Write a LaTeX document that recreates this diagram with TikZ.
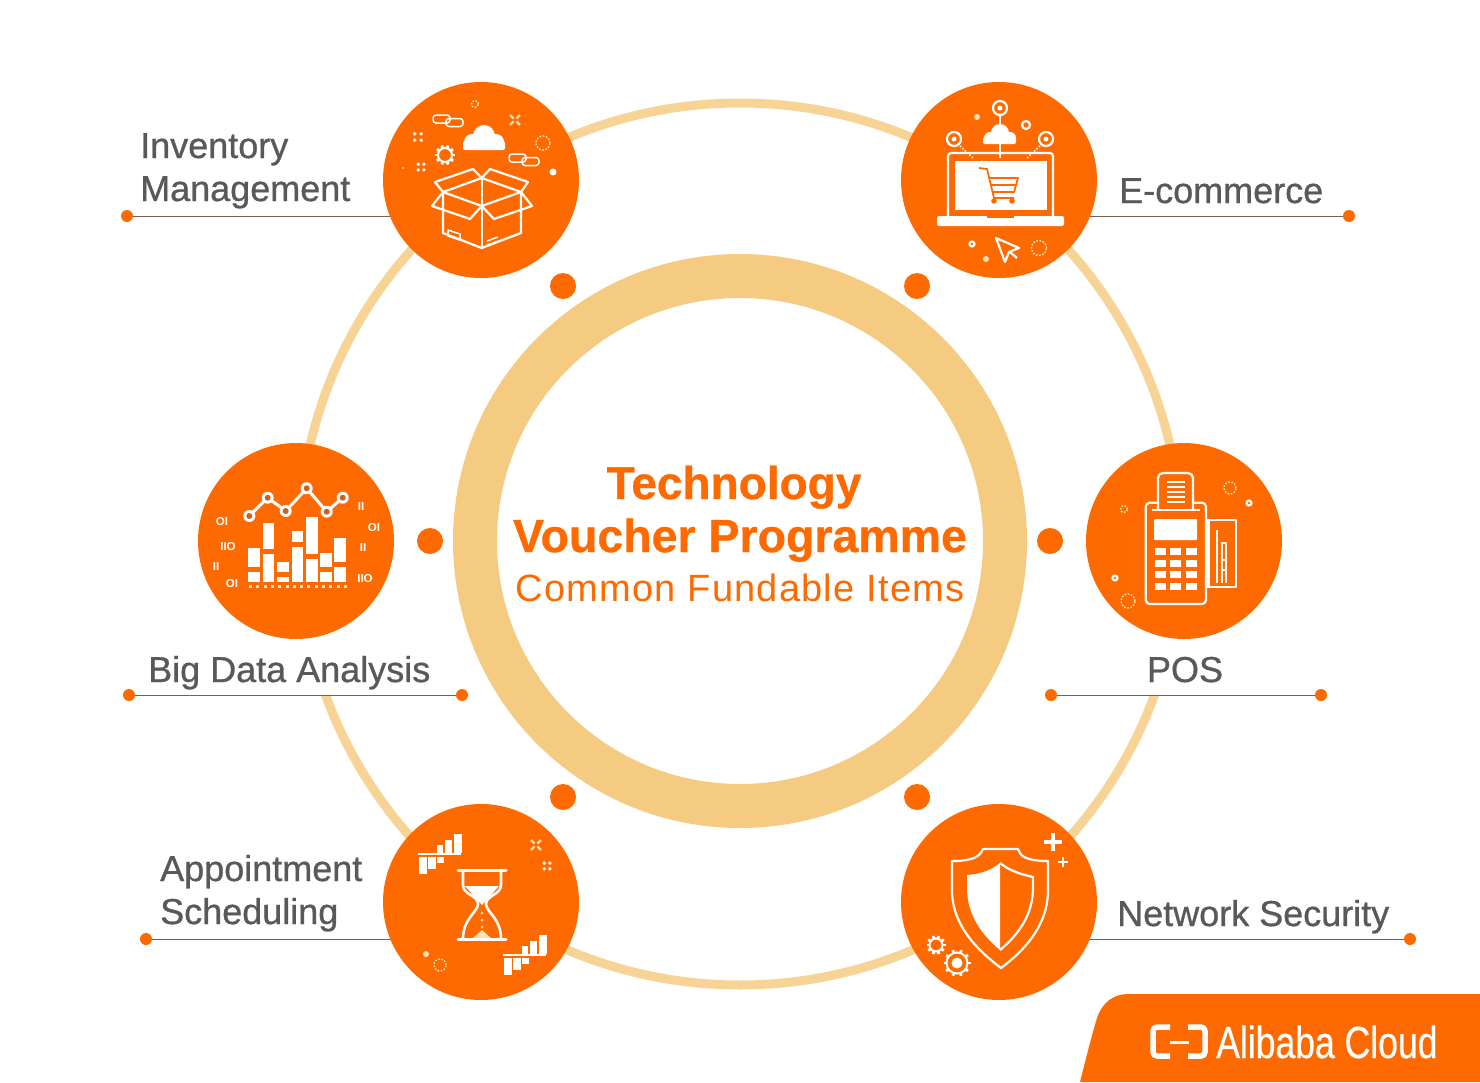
\documentclass[tikz,border=0pt]{standalone}
\usepackage{fontspec}
\setmainfont{Liberation Sans}
\newfontfamily\labelfont[FakeBold=0.8]{Liberation Sans}
\newfontfamily\titlefont[BoldFeatures={FakeBold=0.7}]{Liberation Sans}
\newfontfamily\subtitlefont[LetterSpace=3.3]{Liberation Sans}
\newfontfamily\logofont[FakeBold=0.5,FakeStretch=0.79]{Liberation Sans}
\definecolor{brand}{RGB}{255,106,0}
\definecolor{sand}{RGB}{245,203,130}
\definecolor{sandlight}{RGB}{247,212,150}
\definecolor{inktext}{RGB}{89,89,92}
\definecolor{leaderline}{RGB}{125,95,85}
\definecolor{cream}{RGB}{255,226,180}
\definecolor{chartdot}{RGB}{200,98,40}
\usetikzlibrary{calc}

\tikzset{
  badge/.style={circle, fill=brand, minimum size=196pt, inner sep=0pt},
  bigdot/.style={circle, fill=brand, minimum size=26pt, inner sep=0pt},
  enddot/.style={circle, fill=brand, minimum size=12pt, inner sep=0pt},
  leader/.style={draw=leaderline, line width=1pt},
  itemlabel/.style={anchor=base west, inner sep=0pt, text=inktext, font=\fontsize{36}{40}\labelfont},
  titleline/.style={anchor=base, inner sep=0pt, text=brand},
  bintext/.style={inner sep=0pt, text=white, font=\fontsize{11.5}{12}\bfseries},
  iconline/.style={draw=white, line width=2.2pt, line join=round},
  thinline/.style={draw=white, line width=1.5pt, line join=round},
  dashring/.style={draw=cream, line width=1.5pt, dash pattern=on 1.6pt off 1.6pt}
}

% gear: x, y, radius
\newcommand{\gearmark}[3]{
  \begin{scope}[shift={(#1,#2)}]
    \draw[draw=white, line width=2pt] (0,0) circle (#3 pt);
    \foreach \a in {0,36,...,324}
      \draw[draw=white, line width=2.8pt] (\a:#3) -- (\a:#3+3);
  \end{scope}
}
% four small dots: x, y, spread
\newcommand{\sparkmark}[3]{
  \foreach \a in {45,135,225,315}
    \fill[white, shift={(#1,#2)}] (\a:#3) circle (1.9pt);
}
% small chain link: x, y
\newcommand{\linkmark}[2]{
  \begin{scope}[shift={(#1,#2)}]
    \draw[thinline, rounded corners=3pt] (0,0) rectangle (17,8);
    \draw[thinline, rounded corners=3pt] (13,3.5) rectangle (30,11.5);
  \end{scope}
}
% stepped bars round a line: x, y of the line's left end
\newcommand{\stepbars}[2]{
  \begin{scope}[shift={(#1,#2)}]
    \draw[draw=white, line width=1.6pt] (0,0) -- (43,0);
    \foreach \ba/\bb/\bc in {19/25/-9, 27/34/-14, 36/44/-20}
      \fill[white] (\ba,\bc) rectangle (\bb,-1.5);
    \foreach \ba/\bb/\bc in {1/9/20, 10/18/15, 19/26/9}
      \fill[white] (\ba,3) rectangle (\bb,\bc);
  \end{scope}
}
% x-shaped mark: x, y
\newcommand{\crossmark}[2]{
  \foreach \a in {45,135,225,315}
    \draw[draw=cream, line width=2.4pt] ($(#1,#2)+(\a:2)$) -- ($(#1,#2)+(\a:7)$);
}

\begin{document}
\begin{tikzpicture}[x=1pt, y=-1pt, >=stealth]
    \useasboundingbox (0,0) rectangle (1480,1082);
    \fill[white] (0,0) rectangle (1480,1082);
    % Rings
    \draw[sandlight, line width=9pt] (740,544) circle (441pt);
    \draw[sand, line width=44pt] (740,541) circle (265pt);
    \fill[white] (128,625) rectangle (462,695);
    \fill[white] (1052,625) rectangle (1320,695);
    % Dots round the centre
    \node[bigdot] (dotA) at (563,286) {};
    \node[bigdot] (dotB) at (917,286) {};
    \node[bigdot] (dotC) at (430,541) {};
    \node[bigdot] (dotD) at (1050,541) {};
    \node[bigdot] (dotE) at (563,797) {};
    \node[bigdot] (dotF) at (917,797) {};
    % Leaders
    \node[enddot] (inventoryEnd) at (127,216) {};
    \coordinate (inventoryJoin) at (400,216);
    \draw[leader] (inventoryEnd) -- (inventoryJoin);
    \node[enddot] (commerceEnd) at (1349,216) {};
    \coordinate (commerceJoin) at (1080,216);
    \draw[leader] (commerceEnd) -- (commerceJoin);
    \node[enddot] (dataEndL) at (129,695) {};
    \node[enddot] (dataEndR) at (462,695) {};
    \draw[leader] (dataEndL) -- (dataEndR);
    \node[enddot] (posEndL) at (1051,695) {};
    \node[enddot] (posEndR) at (1321,695) {};
    \draw[leader] (posEndL) -- (posEndR);
    \node[enddot] (scheduleEnd) at (146,939) {};
    \coordinate (scheduleJoin) at (400,939);
    \draw[leader] (scheduleEnd) -- (scheduleJoin);
    \node[enddot] (securityEnd) at (1410,939) {};
    \coordinate (securityJoin) at (1080,939);
    \draw[leader] (securityEnd) -- (securityJoin);
    % Badges
    \node[badge] (inventory) at (481,180) {};
    \node[badge] (commerce) at (999,180) {};
    \node[badge] (data) at (296,541) {};
    \node[badge] (pos) at (1184,541) {};
    \node[badge] (schedule) at (481,902) {};
    \node[badge] (security) at (999,902) {};
    % Centre title
    \node[titleline, font=\fontsize{46}{50}\titlefont\bfseries] (titleA) at (734,499) {Technology};
    \node[titleline, font=\fontsize{46.5}{50}\titlefont\bfseries] (titleB) at (740,552) {Voucher Programme};
    \node[titleline, font=\fontsize{38}{42}\subtitlefont] (titleC) at (740,601) {Common Fundable Items};
    % Labels
    \node[itemlabel] (inventoryA) at (140,158) {Inventory};
    \node[itemlabel] (inventoryB) at (140,201) {Management};
    \node[itemlabel] (commerceT) at (1119,203) {E-commerce};
    \node[itemlabel] (dataT) at (148,682) {Big Data Analysis};
    \node[itemlabel, anchor=base] (posT) at (1185,682) {POS};
    \node[itemlabel] (scheduleA) at (160,881) {Appointment};
    \node[itemlabel] (scheduleB) at (160,924) {Scheduling};
    \node[itemlabel] (securityT) at (1117,926) {Network Security};

    % Box and cloud
    \draw[iconline] (443,192) -- (443,233) -- (481.7,248) -- (521,233) -- (521,192);
    \draw[iconline] (481.7,178) -- (481.7,248);
    \draw[iconline] (443,192) -- (481.7,206) -- (521,192) -- (481.7,178) -- cycle;
    \draw[iconline] (443,192) -- (432,206) -- (470,219) -- (481.7,206) -- (494,219) -- (532,206) -- (521,192);
    \draw[iconline] (443,192) -- (435,182) -- (473,169) -- (481.7,178) -- (490,169) -- (528,182) -- (521,192);
    \draw[thinline] (448,230) -- (460,234) -- (460,240) -- (448,236) -- cycle;
    \draw[thinline] (487,241) -- (498,237) (487,245) -- (502,240);
    \fill[white] (484,136) circle (11pt) (472,142) circle (8pt) (496,142) circle (8pt);
    \fill[white, rounded corners=2pt] (463,141) rectangle (505,150);
    \linkmark{433}{115}
    \linkmark{509}{154}
    \gearmark{445}{155}{7}
    \sparkmark{418}{137}{4.5}
    \sparkmark{421}{167}{4}
    \crossmark{515}{120}
    \draw[dashring] (543,143) circle (7pt);
    \draw[dashring] (475,104) circle (3.5pt);
    \fill[white] (553,172) circle (3.5pt);
    \fill[cream] (403,168) circle (1.2pt);

    % Laptop and cart
    \draw[iconline, rounded corners=3pt] (948,217) -- (948,153) -- (1053,153) -- (1053,217);
    \fill[white] (955,161) rectangle (1047,210);
    \fill[white, rounded corners=2pt] (937,216) rectangle (1064,226);
    \fill[brand] (987,216) rectangle (1014,218);
    \draw[brand, line width=1.8pt, line join=round] (979,168) -- (987,169) -- (994,198) -- (1014,198);
    \draw[brand, line width=1.8pt, line join=round] (989,178) -- (1018,178) -- (1014,192) -- (993,192);
    \draw[brand, line width=1.8pt] (991,185) -- (1016,185);
    \fill[brand] (994,201) circle (2.8pt) (1012,201) circle (2.8pt);
    \fill[white] (1000,133) circle (9pt) (990,138) circle (6pt) (1010,138) circle (6pt);
    \fill[white, rounded corners=2pt] (983,137) rectangle (1016,144);
    \draw[iconline] (1000,116) -- (1000,126) (1000,144) -- (1000,158);
    \draw[iconline] (1000,108) circle (7pt);
    \draw[iconline] (954,139) circle (7pt);
    \draw[iconline] (1046,139) circle (7pt);
    \fill[white] (1000,108) circle (2.5pt) (954,139) circle (2.5pt) (1046,139) circle (2.5pt);
    \draw[dashring, draw=white] (960,146) -- (973,158);
    \draw[dashring, draw=white] (1040,146) -- (1027,158);
    \draw[iconline] (1026,125) circle (4pt);
    \fill[cream] (977,117) circle (3pt) (986,259) circle (3pt);
    \draw[iconline] (972,244) circle (2.5pt);
    \draw[iconline] (996,238) -- (1019,248) -- (1009,252) -- (1005,262) -- cycle;
    \draw[iconline] (1010,252) -- (1017,258);
    \draw[dashring] (1039,248) circle (7.5pt);

    % Chart and binary digits
    \foreach \bx/\ya/\yb/\yc/\yd in {248.3/547.7/567.3/571.7/581.7, 262.7/522.7/549/553.7/581.7,
        277.3/561.7/572.3/577.3/581.7, 291.7/531/541.7/546.7/581.7, 306/516.7/554.3/559.3/581.7,
        320/553.3/566.7/571.7/581.7, 334.3/538.3/562.3/567/581.7} {
      \fill[white] (\bx,\ya) rectangle (\bx+11.5,\yb);
      \fill[white] (\bx,\yc) rectangle (\bx+11.5,\yd);
    }
    \foreach \i in {0,...,13}
      \fill[cream] (249+\i*7.3,584.5) rectangle (252+\i*7.3,587.5);
    \draw[draw=white, line width=3pt] (249.3,516) -- (267.7,497.7) -- (285.7,511) -- (306.7,488.3) -- (326.7,511.7) -- (342.7,497.7);
    \foreach \cx/\cy in {249.3/516, 267.7/497.7, 285.7/511, 306.7/488.3, 326.7/511.7, 342.7/497.7} {
      \fill[white] (\cx,\cy) circle (6pt);
      \fill[chartdot] (\cx,\cy) circle (3pt);
    }
    \foreach \px/\py/\bt [count=\i] in {222/522/OI, 228/547/IIO, 216/567/II, 232/584/OI, 361/507/II, 374/528/OI, 363/548/II, 365/579/IIO}
      \node[bintext] (bin\i) at (\px,\py) {\bt};

    % Card terminal
    \draw[iconline, rounded corners=4pt] (1145.7,502.7) rectangle (1206,604);
    \fill[brand] (1158,500) rectangle (1193,508);
    \draw[iconline, rounded corners=5pt] (1158,510) -- (1158,473) -- (1193,473) -- (1193,510);
    \draw[iconline] (1152,510) -- (1200,510);
    \foreach \ly in {482,487,492,497,502}
      \draw[draw=white, line width=1.8pt] (1167,\ly) -- (1185,\ly);
    \fill[white, rounded corners=1pt] (1154,519) rectangle (1197,540);
    \foreach \kx in {1160,1175.7,1191.7}
      \foreach \ky in {551.7,563.3,574,586.7}
        \fill[white] (\kx-5.5,\ky-3.5) rectangle (\kx+5.5,\ky+3.5);
    \draw[thinline] (1206,520) -- (1236,520) -- (1236,587) -- (1206,587);
    \fill[white] (1206,520) rectangle (1210,587);
    \draw[thinline] (1217,530) -- (1217,583);
    \draw[thinline] (1222,583) -- (1222,543) -- (1226,543) -- (1226,583);
    \draw[thinline] (1222,560) -- (1226,560) (1222,570) -- (1226,570);
    \draw[dashring] (1230,488) circle (6pt);
    \draw[dashring] (1124,509) circle (3.5pt);
    \draw[dashring] (1128,601) circle (7pt);
    \draw[iconline] (1249,503) circle (2.5pt);
    \draw[iconline] (1115,578) circle (2.5pt);

    % Hourglass
    \draw[draw=white, line width=3pt, line cap=round] (458,870) -- (506,870) (458,939) -- (506,939);
    \draw[iconline, line width=2.6pt] (463,870) -- (463,885) .. controls (463,895) and (478,895) .. (478,904)
        .. controls (478,912) and (463,918) .. (463,939);
    \draw[iconline, line width=2.6pt] (501,870) -- (501,885) .. controls (501,895) and (486,895) .. (486,904)
        .. controls (486,912) and (501,918) .. (501,939);
    \fill[white] (465,886) -- (499,886) -- (482,905) -- cycle;
    \fill[cream] (473,938) -- (491,938) -- (482,930) -- cycle;
    \foreach \sy in {913,920,927}
      \fill[cream] (482,\sy) circle (1.5pt);
    \stepbars{418}{854}
    \stepbars{503}{955}
    \crossmark{536}{845}
    \sparkmark{547}{866}{4}
    \fill[cream] (426,954) circle (3pt);
    \draw[dashring] (440,965) circle (6pt);

    % Shield
    \draw[iconline] (983,849) -- (1018,849) .. controls (1020,856) and (1026,861) .. (1048,861)
        -- (1048,890) .. controls (1048,925) and (1025,950) .. (1001,968)
        .. controls (977,950) and (952,925) .. (952,890) -- (952,861)
        .. controls (974,861) and (980,856) .. (983,849) -- cycle;
    \fill[white] (1000,863) .. controls (990,871) and (980,874) .. (967,875) -- (967,888)
        .. controls (967,915) and (982,935) .. (1000,950) -- cycle;
    \draw[iconline] (1000,863) .. controls (1010,871) and (1020,874) .. (1033,877) -- (1033,888)
        .. controls (1033,915) and (1018,935) .. (1000,950);
    \draw[draw=white, line width=4pt] (1044,842) -- (1062,842) (1053,833) -- (1053,851);
    \draw[draw=white, line width=2.6pt] (1058,862) -- (1068,862) (1063,857) -- (1063,867);
    \gearmark{936}{945}{6.5}
    \gearmark{957}{963}{10.5}
    \fill[white] (957,963) circle (5.5pt);

    % Logo tab
    \fill[brand] (1080,1082) .. controls (1088,1050) and (1092,1035) .. (1097,1018)
        .. controls (1102,1003) and (1113,994) .. (1128,994) -- (1480,994) -- (1480,1082) -- cycle;
    \draw[draw=white, line width=5.5pt, rounded corners=4pt] (1170,1027) -- (1153,1027) -- (1153,1056) -- (1170,1056);
    \draw[draw=white, line width=5.5pt, rounded corners=4pt] (1188,1027) -- (1205,1027) -- (1205,1056) -- (1188,1056);
    \draw[draw=white, line width=3pt] (1170,1042) -- (1189,1042);
    \node[anchor=base west, inner sep=0pt, text=white, font=\fontsize{45}{50}\logofont] (logoT) at (1216,1058) {Alibaba Cloud};
\end{tikzpicture}
\end{document}
